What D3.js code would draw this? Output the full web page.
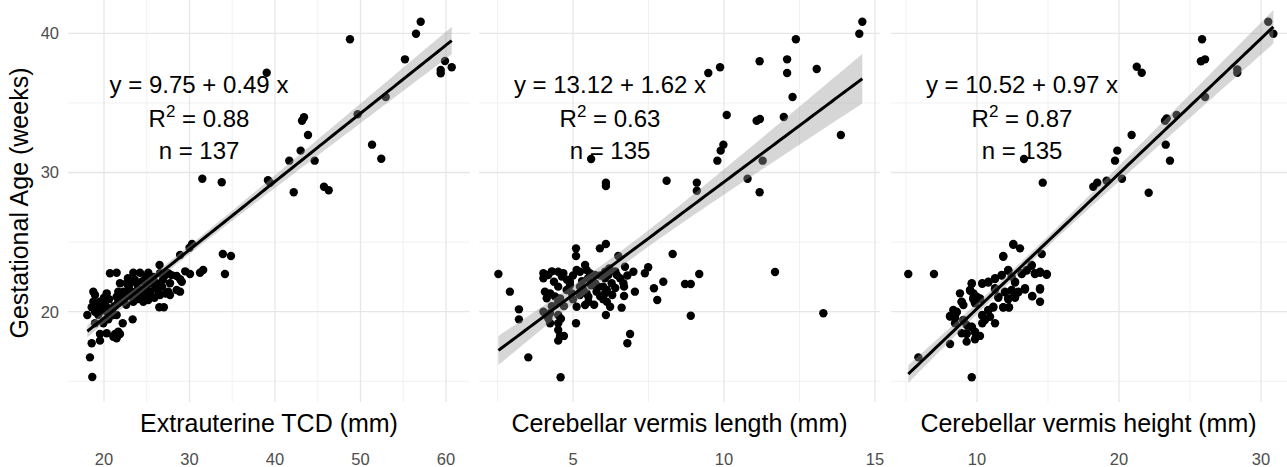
<!DOCTYPE html>
<html><head><meta charset="utf-8">
<script src="https://cdn.jsdelivr.net/npm/d3@7"></script>
<style>
body{margin:0;background:#fff}
svg{display:block}
text{font-family:"Liberation Sans",Arial,Helvetica,sans-serif}
</style>
</head><body>
<svg id="chart" width="1287" height="467"></svg>
<script>
// ---------------- data ----------------
const panelTitles = ["Extrauterine TCD (mm)", "Cerebellar vermis length (mm)", "Cerebellar vermis height (mm)"];
const xTickValues = [[20,30,40,50,60],[5,10,15],[10,20,30]];
const xMinorValues = [[25,35,45,55],[2.5,7.5,12.5],[5,15,25]];
const yTickValues = [20,30,40];
const yMinorValues = [15,25,35];
const yTitle = "Gestational Age (weeks)";
const intercepts = [9.75, 13.12, 10.52];
const slopes = [0.49, 1.62, 0.97];
const interceptLabels = ["9.75","13.12","10.52"];
const slopeLabels = ["0.49","1.62","0.97"];
const r2Labels = ["0.88","0.63","0.87"];
const nLabels = ["137","135","135"];

// [x (mm), gestational age (weeks)]
const tcd = [
[57.04,40.83],[56.49,39.97],[48.77,39.57],[55.2,38.13],[59.88,38.01],[60.67,37.56],[59.38,37.36],[59.38,37.13],[39.03,37.17],[52.95,35.42],
[49.67,34.18],[43.39,33.97],[43.16,33.72],[43.86,32.69],[51.35,32.0],[43.0,31.57],[52.43,30.99],[41.67,30.85],[44.64,30.85],[31.5,29.55],
[33.77,29.3],[39.18,29.44],[39.42,29.27],[45.73,28.98],[46.28,28.72],[42.19,28.58],
[30.3,24.86],[30.0,24.6],[28.9,24.07],[26.5,23.35],[33.9,24.15],[34.85,24.0],[34.15,22.71],[30.06,22.71],[31.23,22.8],[31.6,23.0],
[20.7,22.76],[21.48,22.8],[23.43,22.8],[24.21,22.8],[25.18,22.8],[26.55,22.76],[27.52,22.76],[27.9,22.63],[28.5,22.56],[29.1,22.15],[28.9,22.33],[28.9,21.44],
[21.87,22.04],[22.65,22.04],[23.04,22.04],[23.82,22.04],[25.38,22.04],[26.16,22.04],[27.72,22.04],
[18.75,21.44],[20.32,21.32],[21.67,21.44],[22.26,21.44],[23.24,21.44],[24.21,21.44],[25.38,21.44],[26.35,21.44],[27.52,21.44],[28.5,21.56],[18.95,21.2],
[21.48,21.08],[22.26,21.08],[23.43,21.08],[24.99,21.08],[25.58,21.08],[26.55,21.2],[27.72,21.2],
[18.75,20.72],[19.53,20.72],[19.92,20.72],[21.67,20.72],[23.43,20.72],[24.6,20.72],[25.18,20.84],
[18.56,20.32],[19.15,20.32],[19.73,20.32],[20.32,20.32],[26.47,20.32],[27.0,20.32],
[18.95,20.0],[19.53,20.0],[20.32,20.0],[20.9,20.0],
[18.05,19.76],[19.33,19.76],[21.09,19.76],[21.48,19.76],
[23.35,19.45],[20.51,19.45],[18.95,19.17],[19.92,19.17],[22.19,19.17],
[21.67,18.56],[20.32,18.45],[19.53,18.4],[21.29,18.4],[21.87,18.4],[21.48,18.09],[21.09,18.2],
[18.56,17.73],[19.53,17.92],[18.36,16.72],[18.63,15.31],
[22.8,22.4],[23.6,22.3],[24.5,22.2],[25.0,21.9],[25.8,22.5],[26.9,22.3],[24.0,21.7],[24.8,21.6],[22.9,21.7],[26.0,21.7],
[26.8,21.8],[27.2,21.3],[22.0,20.9],[23.9,20.9],[24.2,21.2],[25.9,21.0],[20.0,21.0],[20.6,20.9],[19.2,20.5],[20.1,20.5],
[19.6,20.2],[20.6,20.2],[21.2,20.4],[22.6,20.5],[23.0,21.2],[24.9,22.5],[27.1,22.6],[29.5,22.9]
];

const vermisLength = [
[14.58,40.83],[14.48,39.97],[12.38,39.57],[11.18,37.99],[12.09,38.13],[12.09,37.15],[13.07,37.44],[9.87,37.56],[9.48,37.15],[12.27,35.42],
[10.09,34.13],[11.08,33.72],[11.19,33.84],[11.98,33.99],[13.87,32.69],[9.98,32.0],[9.89,31.57],[9.78,30.85],[11.28,30.85],[10.78,29.55],
[11.18,28.58],[8.1,29.41],[9.1,29.27],[9.1,28.69],[6.09,29.27],[6.09,29.03],[5.6,30.97],
[2.53,22.71],[2.91,21.44],[3.21,20.17],[3.21,19.45],[3.52,16.72],[4.59,15.29],
[5.1,24.55],[5.1,24.0],[5.89,24.55],[6.09,24.86],[6.5,24.0],[8.3,24.15],
[4.02,22.76],[4.18,22.64],[4.02,22.4],[4.51,22.87],[4.68,22.76],[4.63,22.52],[4.37,22.15],[4.51,21.8],[4.07,21.44],[4.24,21.32],[4.13,20.96],[4.02,20.0],
[4.24,19.89],[4.18,19.53],[4.24,19.17],[4.51,19.76],[4.51,19.17],[4.51,18.69],[4.57,18.26],[4.51,17.92],[4.7,18.26],
[4.57,20.96],[4.51,20.72],[4.79,21.56],[4.9,22.15],[4.96,21.32],[5.12,20.36],[5.1,19.17],
[5.12,23.0],[5.23,22.87],[5.4,23.35],[5.45,23.0],[5.56,22.76],[5.73,22.64],
[5.23,21.8],[5.34,21.56],[5.45,21.32],[5.23,21.2],[5.51,21.08],[5.4,20.48],[5.51,20.72],
[5.73,22.04],[5.84,21.8],[5.78,21.44],[6.06,22.87],[6.17,22.64],[6.06,22.4],[6.0,21.8],[6.12,21.56],[6.06,21.32],
[6.12,20.72],[6.23,20.36],[6.09,19.76],[6.28,22.04],[6.45,22.64],[6.56,22.4],[6.67,22.04],[6.72,23.23],
[6.69,21.8],[6.69,21.13],[6.61,20.29],[7.0,22.87],[7.05,21.44],[7.38,22.76],[7.49,23.19],[7.68,21.68],[7.79,20.84],[7.99,22.15],
[6.89,18.4],[6.8,17.73],
[8.71,21.99],[8.9,21.99],[8.9,19.71],[9.18,22.71],[11.69,22.85],[13.29,19.89],
[4.3,22.9],[4.8,22.3],[5.0,22.6],[5.3,22.2],[5.6,21.9],[5.9,21.1],[6.3,21.2],[6.4,21.7],[4.4,21.1],[4.7,20.4],
[5.0,20.9],[5.7,20.5],[6.0,20.9],[6.4,22.9],[4.3,20.4],[4.6,19.5],[5.9,22.6],[6.2,23.1],[5.5,22.4],[4.9,21.9],[6.8,22.6]
];

const vermisHeight = [
[30.51,40.83],[30.87,39.97],[25.85,39.57],[25.77,37.99],[26.06,38.13],[28.33,37.41],[28.33,37.17],[21.25,37.6],[21.6,37.17],[26.06,35.42],
[23.36,33.89],[24.06,34.13],[23.24,33.72],[20.89,32.69],[23.29,32.0],[19.88,31.57],[23.59,30.85],[19.72,30.85],[19.13,29.41],[20.21,29.55],
[18.19,28.98],[18.47,29.27],[22.09,28.55],[14.63,29.27],[13.31,30.97],
[5.16,22.71],[6.97,22.71],[5.87,16.72],[9.63,15.29],[8.1,17.68],
[12.56,24.86],[13.03,24.55],[11.85,24.0],[14.56,24.15],[8.8,21.32],
[9.63,22.04],[10.37,22.04],[10.8,22.15],[11.27,22.4],[11.74,22.64],[12.2,23.0],[12.44,22.52],
[12.68,22.15],[13.15,22.76],[13.5,23.0],[13.85,23.35],[14.08,22.76],[14.44,22.87],[14.91,22.71],
[14.44,21.68],[14.44,20.72],[13.89,21.13],[13.38,21.68],[12.91,21.44],[12.44,21.56],[11.97,21.44],
[12.68,21.08],[12.2,20.96],[11.5,21.08],[11.27,21.68],[11.85,20.32],[12.25,20.32],[11.15,20.36],[10.8,20.12],
[11.27,19.17],[10.37,19.76],[10.37,19.17],[9.86,20.6],[9.98,21.08],[9.74,20.96],[10.21,20.96],[9.51,21.56],[9.74,21.32],
[8.92,20.72],[9.04,20.48],[8.33,20.12],[8.57,20.0],[8.1,19.69],[8.45,19.6],[8.45,19.17],[9.04,19.4],[9.27,19.05],[9.63,18.92],
[8.92,18.45],[9.27,18.45],[9.86,18.56],[9.27,17.85],[9.86,18.02],[10.21,18.26],[10.56,19.4],[10.92,19.64],
[12.56,24.8],[11.85,23.95],[12.2,22.95],[13.5,22.95],[14.44,22.8],[13.15,22.7],[12.68,22.1],[11.74,22.6],[11.27,22.35],[10.8,22.1],
[10.37,22.0],[9.63,22.0],[14.44,21.6],[13.38,21.6],[12.91,21.4],[12.44,21.5],[11.97,21.4],[12.68,21.0],[12.2,20.9],[11.5,21.0],
[11.27,21.6],[11.85,20.3],[12.25,20.3],[11.15,20.3],[9.98,21.0],[9.74,20.9],[10.21,20.9],[9.51,21.5],[8.92,20.7],[8.57,19.95],
[8.45,19.55],[9.04,19.35],[9.27,18.4],[9.86,18.5],[13.85,23.3],[14.08,22.7],[13.89,21.1],[12.2,22.95],[10.37,19.7],[9.74,21.3],
[10.8,20.1],[9.63,18.9],[8.1,19.65],[14.91,22.65]
];

const panelData = [tcd, vermisLength, vermisHeight];

// ---------------- layout ----------------
const svg = d3.select("#chart");
const plotTop = 0, plotBottom = 402;
const panelLeft = [68, 479, 891];
const panelRight = [470, 880, 1292];
// scales anchored on the tick positions measured in the figure
const xAnchor = [[20,60,104,446],[5,15,573,875],[10,30,977,1261]];
const y = d3.scaleLinear().domain([20,40]).range([311.7,33.3]);

const gridMajor = "#e6e6e6", gridMinor = "#efefef";

// y axis title
svg.append("text")
  .attr("transform", "translate(28,203) rotate(-90)")
  .attr("text-anchor","middle")
  .attr("font-size", 25)
  .attr("fill","#000")
  .text(yTitle);

// y tick labels
svg.append("g").selectAll("text").data(yTickValues).join("text")
  .attr("x", 59).attr("y", d => y(d)).attr("dy","0.36em")
  .attr("text-anchor","end").attr("font-size",16.5).attr("fill","#4d4d4d")
  .text(d => d);

panelData.forEach((data, i) => {
  const x = d3.scaleLinear().domain([xAnchor[i][0], xAnchor[i][1]]).range([xAnchor[i][2], xAnchor[i][3]]);
  const L = panelLeft[i], R = panelRight[i];
  const g = svg.append("g");
  const clipId = "clip" + i;
  svg.append("clipPath").attr("id", clipId).append("rect")
     .attr("x", L).attr("y", plotTop).attr("width", R - L).attr("height", plotBottom - plotTop);
  const pg = g.append("g").attr("clip-path", `url(#${clipId})`);

  // grid minor
  pg.selectAll(".hmin").data(yMinorValues).join("line")
    .attr("x1", L).attr("x2", R).attr("y1", d => y(d)).attr("y2", d => y(d))
    .attr("stroke", gridMinor).attr("stroke-width", 0.9);
  pg.selectAll(".vmin").data(xMinorValues[i]).join("line")
    .attr("x1", d => x(d)).attr("x2", d => x(d)).attr("y1", plotTop).attr("y2", plotBottom)
    .attr("stroke", gridMinor).attr("stroke-width", 0.9);
  // grid major
  pg.selectAll(".hmaj").data(yTickValues).join("line")
    .attr("x1", L).attr("x2", R).attr("y1", d => y(d)).attr("y2", d => y(d))
    .attr("stroke", gridMajor).attr("stroke-width", 1.3);
  pg.selectAll(".vmaj").data(xTickValues[i]).join("line")
    .attr("x1", d => x(d)).attr("x2", d => x(d)).attr("y1", plotTop).attr("y2", plotBottom)
    .attr("stroke", gridMajor).attr("stroke-width", 1.3);

  // points
  pg.append("g").selectAll("circle").data(data).join("circle")
    .attr("cx", d => x(d[0])).attr("cy", d => y(d[1])).attr("r", 4.2).attr("fill", "#000");

  // regression line + 95% confidence band
  const a = intercepts[i], b = slopes[i];
  const n = data.length;
  const xs = data.map(d => d[0]);
  const xbar = d3.mean(xs);
  const sxx = d3.sum(xs, v => (v - xbar) ** 2);
  const sse = d3.sum(data, d => (d[1] - (a + b * d[0])) ** 2);
  const s = Math.sqrt(sse / (n - 2));
  const tq = 1.978;
  const [xmin, xmax] = d3.extent(xs);
  const grid = d3.range(0, 81).map(k => xmin + (xmax - xmin) * k / 80);
  const band = grid.map(v => {
    const fit = a + b * v;
    const se = s * Math.sqrt(1 / n + (v - xbar) ** 2 / sxx);
    return {x: v, fit, lo: fit - tq * se, hi: fit + tq * se};
  });
  pg.append("path").datum(band)
    .attr("d", d3.area().x(d => x(d.x)).y0(d => y(d.lo)).y1(d => y(d.hi)))
    .attr("fill", "#999999").attr("fill-opacity", 0.4);
  pg.append("path").datum(band)
    .attr("d", d3.line().x(d => x(d.x)).y(d => y(d.fit)))
    .attr("fill", "none").attr("stroke", "#000").attr("stroke-width", 3);

  // annotation
  const cx = L + 131;
  const ann = g.append("g").attr("font-size", 24).attr("fill", "#000").attr("text-anchor", "middle");
  ann.append("text").attr("x", cx).attr("y", 93)
     .text(`y = ${interceptLabels[i]} + ${slopeLabels[i]} x`);
  const r2 = ann.append("text").attr("x", cx).attr("y", 127);
  r2.append("tspan").text("R");
  r2.append("tspan").attr("font-size", 17).attr("dy", -10).text("2");
  r2.append("tspan").attr("dy", 10).text(` = ${r2Labels[i]}`);
  ann.append("text").attr("x", cx).attr("y", 159).text(`n = ${nLabels[i]}`);

  // x axis title and tick labels
  g.append("text")
    .attr("x", (L + R) / 2 - (i === 2 ? 3 : 0))
    .attr("y", 432).attr("text-anchor", "middle").attr("font-size", 25).attr("fill", "#000")
    .text(panelTitles[i]);
  g.append("g").selectAll("text").data(xTickValues[i]).join("text")
    .attr("x", d => x(d)).attr("y", 465).attr("text-anchor", "middle")
    .attr("font-size", 16.5).attr("fill", "#4d4d4d").text(d => d);
});
</script>
</body></html>
